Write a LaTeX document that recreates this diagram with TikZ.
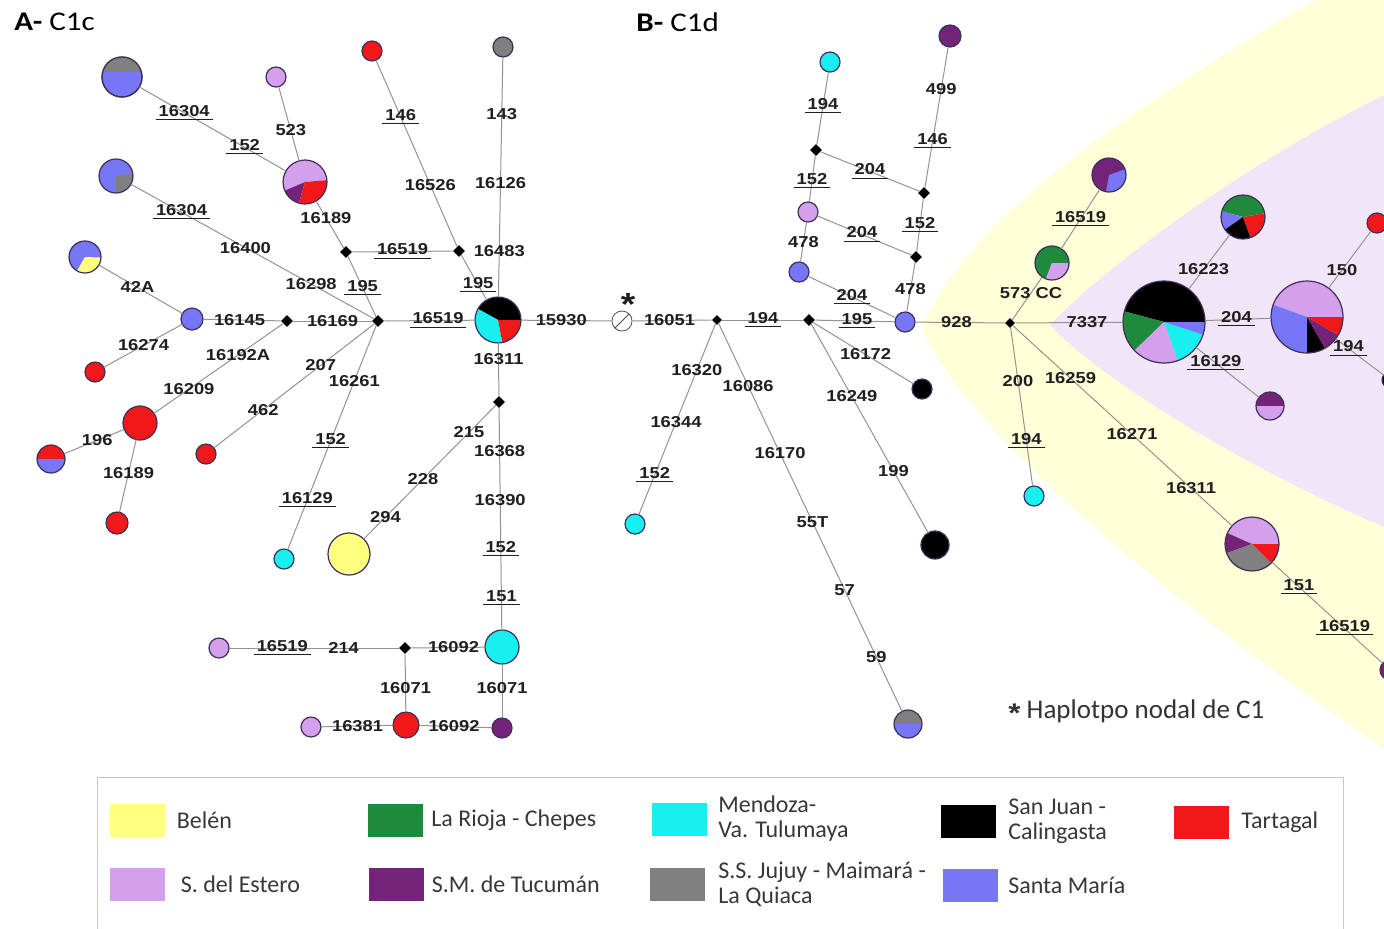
\documentclass[tikz,border=0pt]{standalone}
\usepackage{fontspec}
\setmainfont{Carlito}
\newfontfamily\labfont[FakeStretch=1.16]{Liberation Sans}
\newfontfamily\ttlfont[FakeStretch=1.15]{Carlito}
\usetikzlibrary{calc,positioning,shapes.geometric}

\definecolor{cBe}{HTML}{FFFF80}
\definecolor{cRi}{HTML}{1E8A3C}
\definecolor{cMe}{HTML}{18F0F0}
\definecolor{cSJ}{HTML}{000000}
\definecolor{cTa}{HTML}{F01818}
\definecolor{cEs}{HTML}{D4A0EC}
\definecolor{cTu}{HTML}{742478}
\definecolor{cJu}{HTML}{808080}
\definecolor{cSM}{HTML}{7676F6}
\definecolor{rim}{HTML}{3C3058}
\definecolor{bgyel}{HTML}{FFFFD8}
\definecolor{bglav}{HTML}{F1E6F8}

\newcounter{lbl}
\newcommand\elab[4]{\stepcounter{lbl}\node[lab] (lab\arabic{lbl}) at ($(#1)!#3!(#2)$) {#4};}
\newcommand\ul[1]{\underline{\kern1.5pt#1\kern1.5pt}}
\newcommand\hap[4]{%
  \node[hapl, minimum size=#3pt] (#1) at (#2) {};
  \foreach \pa/\pb/\pc in {#4}
    \fill[\pc] (#1.center) -- ++(\pa:#3) arc[start angle=\pa, end angle=\pb, radius=#3] -- cycle;
  \draw[rim, line width=.6pt] (#1.center) circle[radius=#3];}

\begin{document}
\begin{tikzpicture}[x=0.5pt, y=0.5pt,
  ln/.style={draw=gray!85, line width=.5pt},
  lab/.style={font=\labfont\bfseries\fontsize{7.9}{9}\selectfont, inner sep=0pt, text=black!88},
  hapl/.style={circle, inner sep=0pt, outer sep=0pt},
  mv/.style={diamond, fill=black, inner sep=0pt, minimum size=6pt},
  nodal/.style={circle, draw=black!70, fill=white, inner sep=0pt, minimum size=10pt,
    path picture={\draw[black!70] (path picture bounding box.south west) -- (path picture bounding box.north east);}},
  ttl/.style={font=\ttlfont\fontsize{13.5}{15}\selectfont, inner sep=0pt, anchor=west},
  swatch/.style={minimum width=27.5pt, minimum height=16.5pt, inner sep=0pt},
  legtxt/.style={font=\fontsize{12}{12.5}\selectfont, inner sep=0pt, align=left, text=black!78}]
\useasboundingbox (0,0) rectangle (1384,-928);
\fill[white] (0,0) rectangle (1384,-928);
\clip (0,0) rectangle (1384,-928);

% background zones
\fill[bgyel] (1315,0) .. controls (1110,-120) and (965,-225) .. (922,-328)
  .. controls (960,-420) and (1150,-590) .. (1384,-748) -- (1384,0) -- cycle;
\fill[bglav] (1384,-95) .. controls (1250,-160) and (1100,-270) .. (1050,-325)
  .. controls (1100,-380) and (1250,-470) .. (1384,-527) -- cycle;

\node[ttl] (ttlA) at (14,-22) {\textbf{A-} C1c};
\node[ttl] (ttlB) at (636,-22) {\textbf{B-} C1d};

% A- C1c
\hap{h1}{122,-77}{20}{0/360/cSM}
\fill[cJu] (h1.center) ++(15:20) arc[start angle=15, end angle=165, radius=20] -- cycle;
\draw[rim, line width=.6pt] (h1.center) circle[radius=20];
\hap{h2}{276,-77}{10}{0/360/cEs}
\hap{h3}{305,-182}{22}{5/203/cEs, 203/254/cTu, 254/365/cTa}
\hap{h4}{116,-176}{17}{0/360/cSM, 270/370/cJu}
\hap{h5}{85,-257}{16}{0/360/cSM, 240/358/cBe}
\hap{h6}{192,-319}{11}{0/360/cSM}
\hap{h7}{95,-372}{10}{0/360/cTa}
\hap{h8}{140,-423}{17}{0/360/cTa}
\hap{h9}{51,-459}{14}{0/180/cTa, 180/360/cSM}
\hap{h10}{117,-523}{11}{0/360/cTa}
\hap{h11}{206,-454}{10}{0/360/cTa}
\hap{h12}{284,-559}{10}{0/360/cMe}
\hap{h13}{349,-554}{21}{0/360/cBe}
\hap{h14}{498,-320}{23}{0/151/cSJ, 151/281/cMe, 281/360/cTa}
\node[nodal] (h15) at (622,-321) {};
\node[lab, font=\labfont\bfseries\fontsize{16}{16}\selectfont] (star) at ($(h15)+(6,17)$) {*};
\hap{h16}{372,-51}{10}{0/360/cTa}
\hap{h17}{503,-47}{10}{0/360/cJu}
\hap{h18}{502,-647}{17}{0/360/cMe}
\hap{h19}{219,-648}{10}{0/360/cEs}
\hap{h20}{311,-727}{10}{0/360/cEs}
\hap{h21}{406,-725}{13}{0/360/cTa}
\hap{h22}{502,-728}{10}{0/360/cTu}
\node[mv] (v1) at (346,-252) {};
\node[mv] (v2) at (459,-251) {};
\node[mv] (v3) at (287,-321) {};
\node[mv] (v4) at (378,-321) {};
\node[mv] (v5) at (499,-402) {};
\node[mv] (v6) at (405,-648) {};

% B- C1d
\hap{h23}{830,-62}{10}{0/360/cMe}
\hap{h24}{950,-36}{11}{0/360/cTu}
\hap{h25}{808,-212}{10}{0/360/cEs}
\hap{h26}{799,-272}{10}{0/360/cSM}
\hap{h27}{905,-322}{10}{0/360/cSM}
\hap{h28}{635,-524}{10}{0/360/cMe}
\hap{h29}{922,-389}{10}{0/360/cSJ}
\hap{h30}{935,-545}{14}{0/360/cSJ}
\hap{h31}{908,-724}{14}{0/180/cJu, 180/360/cSM}
\hap{h32}{1109,-175}{17}{0/360/cTu, 260/380/cSM}
\hap{h33}{1052,-263}{17}{0/249/cRi, 249/360/cEs}
\hap{h34}{1164,-322}{41}{0/165/cSJ, 165/224/cRi, 224/290/cEs, 290/342/cMe, 342/360/cSM}
\hap{h35}{1243,-217}{22}{10/165/cRi, 165/215/cSM, 215/290/cSJ, 290/370/cTa}
\hap{h36}{1307,-317}{36}{0/160/cEs, 160/270/cSM, 270/300/cSJ, 300/330/cTu, 330/360/cTa}
\hap{h37}{1377,-223}{10}{0/360/cTa}
\hap{h38}{1270,-406}{14}{0/180/cTu, 180/360/cEs}
\hap{h39}{1034,-496}{10}{0/360/cMe}
\hap{h40}{1252,-544}{27}{0/156/cEs, 156/200/cTu, 200/315/cJu, 315/360/cTa}
\hap{h41}{1390,-670}{10}{0/360/cTu}
\hap{h42}{1390,-380}{8}{0/360/cSJ}
\node[mv, minimum size=5pt] (v7) at (717,-320) {};
\node[mv] (v8) at (809,-320) {};
\node[mv] (v9) at (816,-150) {};
\node[mv] (v10) at (924,-193) {};
\node[mv] (v11) at (916,-257) {};
\node[mv, minimum size=5pt] (v12) at (1010,-323) {};

\foreach \p/\q in {h1/h3, h2/h3, h3/v1, v1/v2, v1/v4, h16/v2, v2/h14, h17/h14, h4/v4,
  h5/h6, h6/v3, h6/h7, v3/v4, v3/h8, h8/h9, h8/h10, v4/h11, v4/h12, v4/h14, h14/h15,
  h14/v5, v5/h13, v5/h18, h19/v6, v6/h18, v6/h21, h18/h22, h20/h21, h21/h22,
  h15/v7, v7/v8, v8/h27, v7/h28, v7/h31, v8/h29, v8/h30, h23/v9, v9/h25, v9/v10,
  h24/v10, v10/v11, h25/v11, h25/h26, v11/h27, h26/h27, h27/v12, v12/h33, h33/h32,
  v12/h34, v12/h39, v12/h40, h34/h35, h34/h36, h34/h38, h36/h37, h36/h42, h40/h41}
  \draw[ln] (\p) -- (\q);

\elab{h1}{h3}{.34}{\ul{16304}}
\elab{h1}{h3}{.67}{\ul{152}}
\elab{h2}{h3}{.51}{523}
\elab{h3}{v1}{.51}{16189}
\elab{v1}{v2}{.5}{\ul{16519}}
\elab{v1}{v4}{.52}{\ul{195}}
\elab{h16}{v2}{.33}{\ul{146}}
\elab{h16}{v2}{.67}{16526}
\elab{v2}{h14}{.49}{\ul{195}}
\elab{h17}{h14}{.245}{143}
\elab{h17}{h14}{.5}{16126}
\elab{h17}{h14}{.748}{16483}
\elab{h4}{v4}{.25}{\ul{16304}}
\elab{h4}{v4}{.494}{16400}
\elab{h4}{v4}{.745}{16298}
\elab{h5}{h6}{.49}{42A}
\elab{h6}{v3}{.5}{16145}
\elab{h6}{h7}{.5}{16274}
\elab{v3}{v4}{.5}{16169}
\elab{v3}{h8}{.333}{16192A}
\elab{v3}{h8}{.667}{16209}
\elab{h8}{h9}{.48}{196}
\elab{h8}{h10}{.5}{16189}
\elab{v4}{h11}{.333}{207}
\elab{v4}{h11}{.667}{462}
\elab{v4}{h12}{.252}{16261}
\elab{v4}{h12}{.504}{\ul{152}}
\elab{v4}{h12}{.752}{\ul{16129}}
\elab{v4}{h14}{.5}{\ul{16519}}
\elab{h14}{h15}{.51}{15930}
\elab{h14}{v5}{.48}{16311}
\elab{v5}{h13}{.2}{215}
\elab{v5}{h13}{.507}{228}
\elab{v5}{h13}{.757}{294}
\elab{v5}{h18}{.2}{16368}
\elab{v5}{h18}{.4}{16390}
\elab{v5}{h18}{.6}{\ul{152}}
\elab{v5}{h18}{.8}{\ul{151}}
\elab{h19}{v6}{.34}{\ul{16519}}
\elab{h19}{v6}{.67}{214}
\elab{v6}{h18}{.5}{16092}
\elab{v6}{h21}{.52}{16071}
\elab{h18}{h22}{.51}{16071}
\elab{h20}{h21}{.49}{16381}
\elab{h21}{h22}{.5}{16092}

\elab{h15}{v7}{.5}{16051}
\elab{v7}{v8}{.5}{\ul{194}}
\elab{v8}{h27}{.5}{\ul{195}}
\elab{v7}{h28}{.246}{16320}
\elab{v7}{h28}{.5}{16344}
\elab{v7}{h28}{.76}{\ul{152}}
\elab{v7}{h31}{.163}{16086}
\elab{v7}{h31}{.33}{16170}
\elab{v7}{h31}{.5}{55T}
\elab{v7}{h31}{.668}{57}
\elab{v7}{h31}{.834}{59}
\elab{v8}{h29}{.5}{16172}
\elab{v8}{h30}{.34}{16249}
\elab{v8}{h30}{.67}{199}
\elab{h23}{v9}{.5}{\ul{194}}
\elab{v9}{h25}{.5}{\ul{152}}
\elab{v9}{v10}{.5}{\ul{204}}
\elab{h24}{v10}{.34}{499}
\elab{h24}{v10}{.67}{\ul{146}}
\elab{v10}{v11}{.5}{\ul{152}}
\elab{h25}{v11}{.5}{\ul{204}}
\elab{h25}{h26}{.5}{478}
\elab{v11}{h27}{.5}{478}
\elab{h26}{h27}{.5}{\ul{204}}
\elab{h27}{v12}{.49}{928}
\elab{v12}{h33}{.5}{573 CC}
\elab{h33}{h32}{.5}{\ul{16519}}
\elab{v12}{h34}{.5}{7337}
\elab{v12}{h39}{.333}{200}
\elab{v12}{h39}{.68}{\ul{194}}
\elab{v12}{h40}{.25}{16259}
\elab{v12}{h40}{.504}{16271}
\elab{v12}{h40}{.748}{16311}
\elab{h34}{h35}{.5}{16223}
\elab{h34}{h36}{.507}{\ul{204}}
\elab{h34}{h38}{.49}{\ul{16129}}
\elab{h36}{h37}{.5}{150}
\elab{h36}{h42}{.5}{\ul{194}}
\elab{h40}{h41}{.34}{\ul{151}}
\elab{h40}{h41}{.67}{\ul{16519}}

\node[anchor=west, inner sep=0pt, font=\fontsize{13.5}{15}\selectfont, text=black!80] (note) at (1008,-711)
  {\raisebox{-.3ex}{\labfont\bfseries *} Haplotpo nodal de C1};

% legend
\draw[gray!45, line width=.5pt] (97,-777) rectangle (1343,-945);
\node[swatch, fill=cBe] (sw1) at (137.5,-820) {};
\node[legtxt, right=5.5pt of sw1] (tx1) {Belén};
\node[swatch, fill=cRi] (sw2) at (395,-820) {};
\node[legtxt, right=4pt of sw2] (tx2) {La Rioja - Chepes};
\node[swatch, fill=cMe] (sw3) at (679,-819) {};
\node[legtxt, right=5.5pt of sw3] (tx3) {Mendoza-\\Va. Tulumaya};
\node[swatch, fill=cSJ] (sw4) at (968,-821) {};
\node[legtxt, right=6pt of sw4] (tx4) {San Juan -\\Calingasta};
\node[swatch, fill=cTa] (sw5) at (1201,-822) {};
\node[legtxt, right=6pt of sw5] (tx5) {Tartagal};
\node[swatch, fill=cEs] (sw6) at (137.5,-884) {};
\node[legtxt, right=7.5pt of sw6] (tx6) {S. del Estero};
\node[swatch, fill=cTu] (sw7) at (396.5,-884) {};
\node[legtxt, right=3.5pt of sw7] (tx7) {S.M. de Tucumán};
\node[swatch, fill=cJu] (sw8) at (677,-884) {};
\node[legtxt, right=6.5pt of sw8] (tx8) {S.S. Jujuy - Maimará -\\La Quiaca};
\node[swatch, fill=cSM] (sw9) at (970,-885) {};
\node[legtxt, right=5pt of sw9] (tx9) {Santa María};
\end{tikzpicture}
\end{document}
